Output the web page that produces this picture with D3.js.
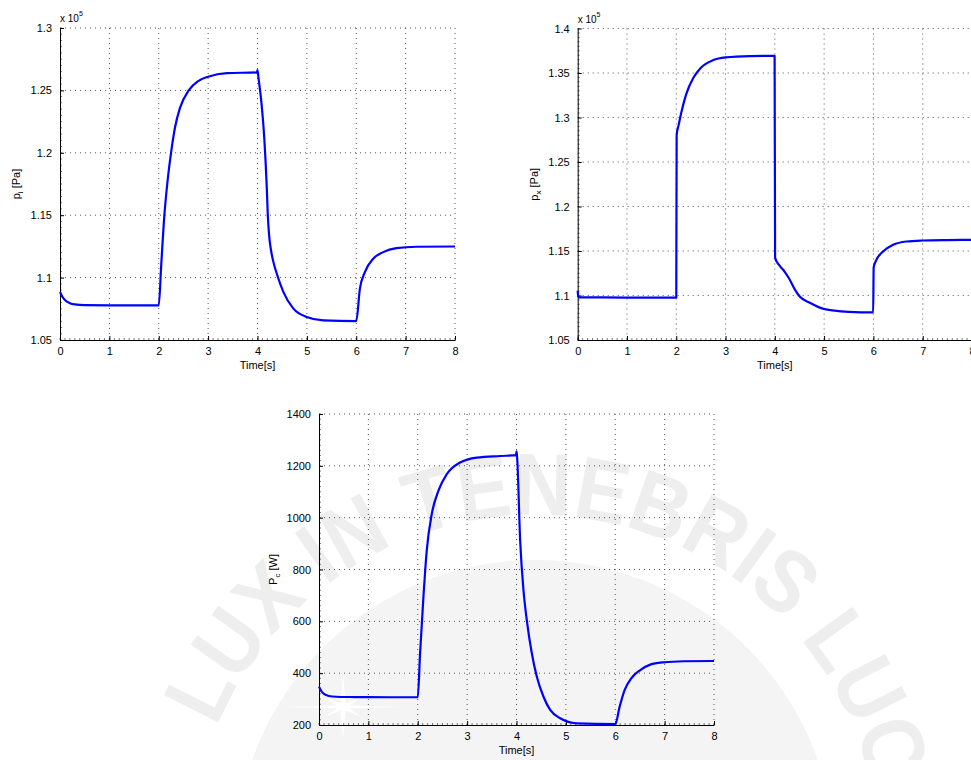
<!DOCTYPE html>
<html>
<head>
<meta charset="utf-8">
<script src="https://cdn.jsdelivr.net/npm/d3@7"></script>
<style>
  body { margin: 0; background: #fff; }
  svg text { font-family: "Liberation Sans", Arial, Helvetica, sans-serif; }
</style>
</head>
<body>
<svg id="fig" width="971" height="760"></svg>
<script>
// time axis shared by all three plots
var timeTicks = [0, 1, 2, 3, 4, 5, 6, 7, 8];

// intake pressure p_i [Pa]
var piTime = [0, 0.05, 0.1, 0.2, 0.3, 0.5, 1.0, 2.0, 2.05, 2.114, 2.18, 2.249, 2.33, 2.43, 2.606, 2.8, 3.0, 3.38, 3.99, 4.0,
  4.02, 4.08, 4.14, 4.189, 4.209, 4.236, 4.269, 4.323, 4.391, 4.525, 4.727, 4.997, 5.333, 6.0,
  6.074, 6.175, 6.343, 6.545, 6.815, 7.219, 8.0];
var piValue = [108840, 108450, 108200, 107950, 107850, 107790, 107775, 107770, 111000, 115000, 117800, 120000, 122050, 123600, 125000, 125750, 126100, 126390, 126440, 126630,
  126000, 124000, 121000, 117110, 114970, 113370, 112310, 111240, 110310, 108840, 107510, 106840, 106570, 106520,
  109110, 110440, 111510, 112040, 112360, 112470, 112490];
var piTicks = [105000, 110000, 115000, 120000, 125000, 130000];

// exhaust pressure p_x [Pa]
var pxTime = [0, 0.01, 0.03, 0.5, 1.0, 2.0, 2.008, 2.05, 2.1, 2.2, 2.35, 2.5, 2.75, 3.0, 3.5, 3.995,
  4.005, 4.1, 4.2, 4.28, 4.41, 4.51, 4.71, 4.99, 5.5, 5.995, 6.005, 6.06, 6.195, 6.4, 6.67, 7.0, 7.5, 8.0];
var pxValue = [110530, 109900, 109800, 109780, 109770, 109770, 128060, 129200, 130500, 132600, 134500, 135600, 136450, 136750, 136900, 136930,
  114230, 113340, 112660, 112000, 110640, 109850, 109180, 108500, 108170, 108100, 113150, 114000, 114940, 115700, 116070, 116180, 116230, 116250];
var pxTicks = [105000, 110000, 115000, 120000, 125000, 130000, 135000, 140000];

// compressor power P_c [W]
var pcTime = [0, 0.05, 0.1, 0.2, 0.35, 0.6, 1.0, 2.0, 2.047, 2.115, 2.182, 2.284, 2.419, 2.588, 2.858, 3.196, 3.669, 3.99, 4.0,
  4.012, 4.074, 4.142, 4.209, 4.311, 4.412, 4.547, 4.682, 4.885, 5.223, 6.0, 6.088, 6.189, 6.324, 6.507, 6.709, 6.98, 7.385, 8.0];
var pcValue = [348, 330, 320, 312, 309, 308, 307.5, 307, 476, 694, 873, 1014, 1104, 1168, 1213, 1232, 1238, 1241, 1256,
  1235, 912, 719, 604, 476, 386, 309, 258, 226, 206, 203, 270, 335, 380, 412, 433, 442, 446, 447];
var pcTicks = [200, 400, 600, 800, 1000, 1200, 1400];

var svg = d3.select("#fig");

// faint seal in the background
var seal = svg.append("g").attr("class", "seal");
var cx = 535, cy = 860, r = 345;
seal.append("circle")
  .attr("cx", cx).attr("cy", cy).attr("r", 300)
  .attr("fill", "#f4f4f4");
seal.append("path")
  .attr("id", "sealArc")
  .attr("fill", "none")
  .attr("d", "M" + (cx - r) + "," + cy + " A" + r + "," + r + " 0 1 1 " + (cx + r) + "," + cy +
             " A" + r + "," + r + " 0 1 1 " + (cx - r) + "," + cy);
seal.append("text")
  .attr("font-size", 88)
  .attr("font-weight", "bold")
  .attr("fill", "#eeeeee")
  .append("textPath")
  .attr("href", "#sealArc")
  .attr("startOffset", 136)
  .attr("textLength", 972)
  .attr("lengthAdjust", "spacingAndGlyphs")
  .text("LUX IN TENEBRIS LUCET");
var star = d3.range(16).map(function(i) {
  var a = i * Math.PI / 8, len = (i % 4 === 0) ? 58 : (i % 2 === 0 ? 26 : 7);
  return [343 + len * Math.cos(a), 707 + len * Math.sin(a) * 0.55];
});
seal.append("polygon")
  .attr("points", star.map(function(p) { return p.join(","); }).join(" "))
  .attr("fill", "#fff");

function drawPlot(opt) {
  var x = d3.scaleLinear().domain([0, 8]).range([opt.left, opt.right]);
  var y = d3.scaleLinear().domain(opt.yDomain).range([opt.bottom, opt.top]);
  var g = svg.append("g");

  // dotted grid
  g.selectAll("line.vgrid")
    .data(timeTicks.slice(1))
    .join("line")
    .classed("vgrid", true)
    .attr("x1", d => x(d)).attr("x2", d => x(d))
    .attr("y1", opt.top).attr("y2", opt.bottom)
    .attr("stroke", "#555").attr("stroke-width", 1).attr("stroke-dasharray", "1,4");
  g.selectAll("line.hgrid")
    .data(opt.yTicks.slice(1))
    .join("line")
    .classed("hgrid", true)
    .attr("y1", d => y(d)).attr("y2", d => y(d))
    .attr("x1", opt.left).attr("x2", opt.right)
    .attr("stroke", "#555").attr("stroke-width", 1).attr("stroke-dasharray", "1,4");

  // minor ticks, pointing inward
  var xMinor = d3.range(0, 8.0001, 0.1);
  g.selectAll("line.xminor")
    .data(xMinor)
    .join("line")
    .classed("xminor", true)
    .attr("x1", d => x(d)).attr("x2", d => x(d))
    .attr("y1", opt.bottom).attr("y2", opt.bottom - 2)
    .attr("stroke", "#444").attr("stroke-width", 0.7);
  var yStep = (opt.yTicks[1] - opt.yTicks[0]) / 10;
  var yMinor = d3.range(opt.yDomain[0], opt.yDomain[1] + yStep / 2, yStep);
  g.selectAll("line.yminor")
    .data(yMinor)
    .join("line")
    .classed("yminor", true)
    .attr("y1", d => y(d)).attr("y2", d => y(d))
    .attr("x1", opt.left).attr("x2", opt.left + 2)
    .attr("stroke", "#444").attr("stroke-width", 0.7);

  // axes
  var xAxis = d3.axisBottom(x).tickValues(timeTicks).tickSizeInner(-4).tickSizeOuter(0).tickPadding(7);
  var yAxis = d3.axisLeft(y).tickValues(opt.yTicks).tickSizeInner(-4).tickSizeOuter(0).tickPadding(8)
    .tickFormat(opt.tickFormat);
  var gx = g.append("g").attr("transform", "translate(0," + opt.bottom + ")").call(xAxis);
  var gy = g.append("g").attr("transform", "translate(" + opt.left + ",0)").call(yAxis);
  [gx, gy].forEach(function(a) {
    a.selectAll("path.domain").attr("stroke", "#000").attr("stroke-width", 1);
    a.selectAll(".tick line").attr("stroke", "#000");
    a.selectAll("text").attr("font-size", 11).attr("fill", "#000")
      .style("font-family", "'Liberation Sans', Arial, sans-serif");
  });

  // signal
  var line = d3.line()
    .x((d, i) => x(opt.t[i]))
    .y(d => y(d))
    .curve(d3.curveMonotoneX);
  g.append("path")
    .datum(opt.v)
    .attr("d", line)
    .attr("fill", "none")
    .attr("stroke", "#0000ff")
    .attr("stroke-width", 2.2)
    .attr("stroke-linejoin", "round");

  // labels
  g.append("text")
    .attr("x", (opt.left + opt.right) / 2)
    .attr("y", opt.bottom + 29)
    .attr("text-anchor", "middle")
    .attr("font-size", 11)
    .text("Time[s]");

  var yl = g.append("text")
    .attr("transform", "translate(" + opt.ylabelX + "," + ((opt.top + opt.bottom) / 2) + ") rotate(-90)")
    .attr("text-anchor", "middle")
    .attr("font-size", 11);
  yl.append("tspan").text(opt.ylabel[0]);
  yl.append("tspan").attr("font-size", 8).attr("dy", 3).text(opt.ylabel[1]);
  yl.append("tspan").attr("dy", -3).text(" " + opt.ylabel[2]);

  if (opt.exponent) {
    var ex = g.append("text")
      .attr("x", opt.left)
      .attr("y", opt.top - 6)
      .attr("font-size", 10);
    ex.append("tspan").text("x 10");
    ex.append("tspan").attr("font-size", 7).attr("dy", -6).text(opt.exponent);
  }
}

var fmtE5 = d => d3.format("")(+(d / 1e5).toFixed(2));

drawPlot({
  left: 60, right: 455, top: 28, bottom: 340,
  yDomain: [105000, 130000], yTicks: piTicks, tickFormat: fmtE5,
  t: piTime, v: piValue, ylabel: ["p", "i", "[Pa]"], ylabelX: 20, exponent: "5"
});
drawPlot({
  left: 577.7, right: 972, top: 28.5, bottom: 340,
  yDomain: [105000, 140000], yTicks: pxTicks, tickFormat: fmtE5,
  t: pxTime, v: pxValue, ylabel: ["p", "x", "[Pa]"], ylabelX: 538, exponent: "5"
});
drawPlot({
  left: 319, right: 714, top: 414, bottom: 725,
  yDomain: [200, 1400], yTicks: pcTicks, tickFormat: d3.format("d"),
  t: pcTime, v: pcValue, ylabel: ["P", "c", "[W]"], ylabelX: 277, exponent: null
});
</script>
</body>
</html>
